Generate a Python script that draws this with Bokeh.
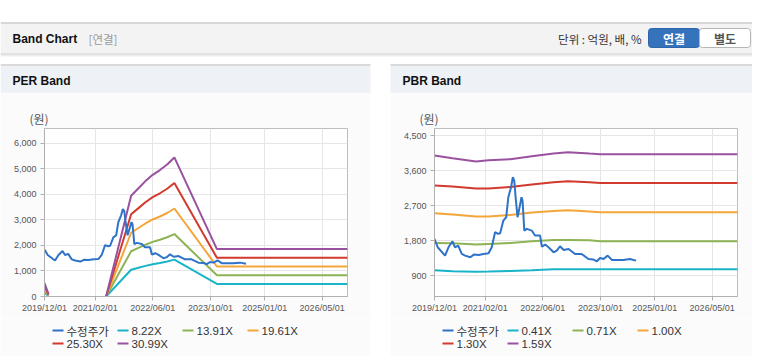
from datetime import datetime
from bokeh.plotting import figure
from bokeh.models import (Range1d, FixedTicker, NumeralTickFormatter, DatetimeTickFormatter,
                          Spacer)
from bokeh.layouts import column, row
from bokeh.core.properties import value
from bokeh.embed import file_html
from bokeh.resources import INLINE

nan = float("nan")

# ---------------- data ----------------
x_tick_labels = ["2019/12/01", "2021/02/01", "2022/06/01", "2023/10/01", "2025/01/01", "2026/05/01"]
x_start = "2019/12/01"
x_end = "2026/12/01"

price_dates = ["2019-12-01", "2019-12-28", "2020-02-28", "2020-03-28", "2020-05-01", "2020-05-22",
               "2020-06-18", "2020-07-18", "2020-08-15", "2020-09-28", "2020-10-28", "2020-12-07",
               "2021-01-18", "2021-03-01", "2021-03-28", "2021-04-25", "2021-05-22", "2021-06-07",
               "2021-07-04", "2021-07-28", "2021-08-15", "2021-09-07", "2021-09-22", "2021-10-04",
               "2021-10-18", "2021-11-01", "2021-11-18", "2021-12-04", "2021-12-13", "2021-12-28",
               "2022-01-18", "2022-03-01", "2022-03-28", "2022-05-10", "2022-05-25", "2022-06-22",
               "2022-07-20", "2022-09-01", "2022-09-28", "2022-10-25", "2022-11-25", "2023-01-06",
               "2023-03-01", "2023-04-25", "2023-06-22", "2023-08-04", "2023-09-01", "2023-09-28",
               "2023-10-28", "2023-12-01", "2024-01-07", "2024-02-15", "2024-04-12", "2024-06-07",
               "2024-07-28"]
price_values = [1844, 1629, 1414, 1629, 1783, 1629,
                1672, 1457, 1414, 1371, 1440, 1431,
                1457, 1474, 1629, 2016, 1973, 1990,
                2317, 2402, 2918, 3176, 3434, 3348,
                2832, 2402, 2660, 2918, 2832, 2059,
                2102, 2059, 1930, 1930, 1646, 1698,
                1629, 1500, 1543, 1655, 1560, 1586,
                1457, 1457, 1328, 1311, 1268, 1354,
                1328, 1414, 1302, 1302, 1302, 1328,
                1285]

per_dates = ["2019-12-01", "2020-01-04", "2020-06-01", "2021-05-04", "2021-12-01", "2022-02-01",
             "2022-04-01", "2022-06-01", "2022-08-01", "2022-10-01", "2022-12-01", "2023-11-25",
             "2026-12-01"]
per_822 = [138, 25, nan, 0, 1048, 1126, 1200, 1266, 1315, 1373, 1447, 493, 493]
per_1391 = [234, 42, nan, 0, 1774, 1906, 2031, 2142, 2226, 2323, 2448, 835, 835]
per_1961 = [330, 60, nan, 0, 2500, 2687, 2863, 3020, 3138, 3275, 3451, 1177, 1177]
per_2530 = [425, 77, nan, 0, 3226, 3466, 3694, 3896, 4048, 4225, 4453, 1518, 1518]
per_3099 = [521, 94, nan, 0, 3951, 4246, 4525, 4772, 4958, 5175, 5454, 1859, 1859]
per_labels = ["8.22X", "13.91X", "19.61X", "25.30X", "30.99X"]
per_y_ticks = [0, 1000, 2000, 3000, 4000, 5000, 6000]

pbr_dates = ["2019-12-01", "2020-05-01", "2020-11-15", "2021-03-01", "2021-09-01", "2022-03-01",
             "2022-09-01", "2023-01-01", "2023-07-01", "2023-10-01", "2026-12-01"]
pbr_041 = [1036, 1010, 1001, 1005, 1019, 1036, 1062, 1062, 1062, 1062, 1062]
pbr_071 = [1741, 1732, 1698, 1715, 1741, 1784, 1818, 1818, 1810, 1784, 1784]
pbr_100 = [2506, 2471, 2420, 2420, 2463, 2523, 2566, 2583, 2549, 2532, 2532]
pbr_130 = [3219, 3193, 3142, 3142, 3185, 3245, 3305, 3331, 3305, 3288, 3288]
pbr_159 = [3993, 3924, 3838, 3872, 3898, 3976, 4044, 4079, 4044, 4027, 4027]
pbr_labels = ["0.41X", "0.71X", "1.00X", "1.30X", "1.59X"]
pbr_y_ticks = [900, 1800, 2700, 3600, 4500]

price_label = "수정주가"
band_colors = ["#1ab4c8", "#8db454", "#f4a63a", "#d23a2e", "#9a52a0"]
price_color = "#2f73c9"

# ---------------- helpers ----------------
EPOCH = datetime(1970, 1, 1)


def d(s):
    return datetime.strptime(s.replace("/", "-"), "%Y-%m-%d")


def ms(s):
    return (d(s) - EPOCH).total_seconds() * 1000.0


LATIN = "Liberation Sans"
CJK = "Noto Sans CJK KR"
PANEL_BG = "#fbfbfc"

CHART_H = 225   # canvas y 93 .. 318
LEGEND_H = 38   # canvas y 318 .. 356
FRAME_L, FRAME_R = 44, 347   # frame edges, relative to each panel's left side


def make_chart(width, y_lo, y_hi, y_ticks, band_dates, bands):
    p = figure(width=width, height=CHART_H, x_axis_type="datetime",
               x_range=Range1d(d(x_start), d(x_end)), y_range=Range1d(y_lo, y_hi),
               output_backend="svg", toolbar_location=None,
               min_border_left=FRAME_L, min_border_right=width - FRAME_R,
               min_border_top=35, min_border_bottom=CHART_H - 35 - 168)
    p.background_fill_color = "white"
    p.border_fill_color = PANEL_BG
    p.outline_line_color = "#bdbdbd"

    # "(원)" unit label above the y axis
    p.title.text = "(원)"
    p.title.align = "left"
    p.title.offset = -15
    p.title.standoff = 3
    p.title.text_font = CJK
    p.title.text_font_size = "12px"
    p.title.text_font_style = "normal"
    p.title.text_color = "#555555"

    xt = FixedTicker(ticks=[ms(t) for t in x_tick_labels])
    p.xaxis.ticker = xt
    p.xgrid.ticker = xt
    fmt = "%Y/%m/%d"
    p.xaxis.formatter = DatetimeTickFormatter(days=fmt, months=fmt, years=fmt, hours=fmt,
                                              hourmin=fmt, minutes=fmt)
    yt = FixedTicker(ticks=y_ticks)
    p.yaxis.ticker = yt
    p.ygrid.ticker = yt
    p.yaxis.formatter = NumeralTickFormatter(format="0,0")

    for ax in (p.xaxis, p.yaxis):
        ax.axis_line_color = "#b0b0b0"
        ax.major_tick_line_color = "#b0b0b0"
        ax.major_tick_out = 4
        ax.major_tick_in = 0
        ax.minor_tick_line_color = None
        ax.major_label_text_font = LATIN
        ax.major_label_text_font_size = "9px"
        ax.major_label_text_color = "#555555"
    p.xaxis.major_label_standoff = 2
    p.yaxis.major_label_standoff = 4
    p.xgrid.grid_line_color = "#e6e6e6"
    p.ygrid.grid_line_color = "#e6e6e6"

    xs = [d(s) for s in band_dates]
    for vals, col in zip(bands, band_colors):
        p.line(xs, vals, line_color=col, line_width=2)
    p.line([d(s) for s in price_dates], price_values, line_color=price_color, line_width=2)
    return p


def make_legend(width, labels):
    # legend strip; its frame is aligned with the chart frame above it,
    # so the x range is expressed in panel pixels from FRAME_L to FRAME_R
    f = figure(width=width, height=LEGEND_H, x_range=Range1d(FRAME_L, FRAME_R),
               y_range=Range1d(LEGEND_H, 0),
               output_backend="svg", toolbar_location=None,
               min_border_left=FRAME_L, min_border_right=width - FRAME_R,
               min_border_top=0, min_border_bottom=0,
               x_axis_location=None, y_axis_location=None)
    f.grid.visible = False
    f.outline_line_color = None
    f.background_fill_color = PANEL_BG
    f.border_fill_color = PANEL_BG
    names = [price_label] + list(labels)
    colors = [price_color] + band_colors
    gx, gy = [], []
    for i in range(len(names)):
        gx.append(52 + 65 * (i % 4))
        gy.append(12 + 13 * (i // 4))
    f.segment(x0=gx, y0=gy, x1=[x + 11 for x in gx], y1=gy, line_color=colors, line_width=2)
    f.text(x=[gx[0] + 14], y=[gy[0]], text=[names[0]], text_font=value(CJK),
           text_font_size="11.5px", text_color="#333333", text_baseline="middle")
    f.text(x=[x + 14 for x in gx[1:]], y=gy[1:], text=names[1:], text_font=value(LATIN),
           text_font_size="11.5px", text_color="#333333", text_baseline="middle")
    return f


# ---------------- decoration (top bar and panel headers) ----------------
top = figure(width=752, height=93, x_range=Range1d(0, 752), y_range=Range1d(93, 0),
             output_backend="svg", toolbar_location=None, min_border=0,
             x_axis_location=None, y_axis_location=None)
top.grid.visible = False
top.outline_line_color = None
top.background_fill_color = "white"
top.border_fill_color = "white"

top.quad(left=[0], right=[752], top=[22], bottom=[53], fill_color="#f3f3f3", line_color=None)
top.segment(x0=[0, 0, 0, 0], y0=[22.5, 53.5, 54.5, 55.5], x1=[752, 752, 752, 752],
            y1=[22.5, 53.5, 54.5, 55.5],
            line_color=["#b9b9b9", "#c9c9c9", "#dedede", "#efefef"], line_width=1)
top.text(x=[12], y=[38], text=["Band Chart"], text_font=value(LATIN), text_font_style="bold",
         text_font_size="12px", text_color="#111111", text_baseline="middle")
top.text(x=[88], y=[38], text=["[연결]"], text_font=value(CJK),
         text_font_size="11.5px", text_color="#9a9a9a", text_baseline="middle")
top.text(x=[641], y=[38], text=["단위 : 억원, 배, %"], text_font=value(CJK),
         text_font_size="11.5px", text_color="#333333", text_baseline="middle", text_align="right")
top.quad(left=[648], right=[699], top=[28], bottom=[47], fill_color="#3574bd",
         line_color="#2c66a8", border_radius=3)
top.quad(left=[699], right=[750], top=[28], bottom=[47], fill_color="white",
         line_color="#b5b5b5", border_radius=3)
top.text(x=[673.5], y=[38], text=["연결"], text_font=value(CJK), text_font_style="bold",
         text_font_size="12px", text_color="white", text_baseline="middle", text_align="center")
top.text(x=[724.5], y=[38], text=["별도"], text_font=value(CJK), text_font_style="bold",
         text_font_size="12px", text_color="#555555", text_baseline="middle", text_align="center")

# panel headers
top.quad(left=[0, 390], right=[370, 752], top=[65, 65], bottom=[93, 93],
         fill_color="#eef1f6", line_color=None)
top.segment(x0=[0, 390], y0=[64.5, 64.5], x1=[370, 752], y1=[64.5, 64.5],
            line_color="#cfcfcf", line_width=1.5)
top.text(x=[12, 402], y=[80, 80], text=["PER Band", "PBR Band"], text_font=value(LATIN),
         text_font_style="bold", text_font_size="12px", text_color="#111111",
         text_baseline="middle")

# ---------------- charts ----------------
per_chart = make_chart(370, 0, 6588, per_y_ticks, per_dates,
                       [per_822, per_1391, per_1961, per_2530, per_3099])
pbr_chart = make_chart(362, 360, 4690, pbr_y_ticks, pbr_dates,
                       [pbr_041, pbr_071, pbr_100, pbr_130, pbr_159])
per_legend = make_legend(370, per_labels)
pbr_legend = make_legend(362, pbr_labels)

layout = column(
    top,
    row(column(per_chart, per_legend), Spacer(width=20, height=CHART_H + LEGEND_H),
        column(pbr_chart, pbr_legend)),
)

open("out.html", "w").write(file_html(layout, INLINE))
